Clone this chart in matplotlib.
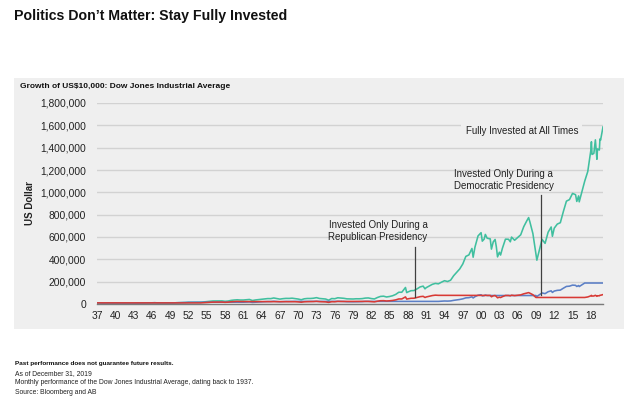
import matplotlib
matplotlib.use("Agg")
import matplotlib.pyplot as plt
import matplotlib.ticker as ticker
from matplotlib.patches import Rectangle

plt.rcParams['font.family'] = ['Liberation Sans', 'DejaVu Sans']

# month positions as fractional years (1937.0 = start of Jan 1937)
dates = [1937.0, 1937.5, 1938.0, 1938.5, 1939.0, 1939.5, 1940.0, 1940.5, 1941.0, 1941.5,
         1942.0, 1942.5, 1943.0, 1943.5, 1944.0, 1944.5, 1945.0, 1945.5, 1946.0, 1946.5,
         1947.0, 1947.5, 1948.0, 1948.5, 1949.0, 1949.5, 1950.0, 1950.5, 1951.0, 1951.5,
         1952.0, 1952.5, 1953.0, 1953.5, 1954.0, 1954.5, 1955.0, 1955.5, 1956.0, 1956.5,
         1957.0, 1957.5, 1958.0, 1958.5, 1959.0, 1959.5, 1960.0, 1960.5, 1961.0, 1961.5,
         1962.0, 1962.5, 1963.0, 1963.5, 1964.0, 1964.5, 1965.0, 1965.5, 1966.0, 1966.5,
         1967.0, 1967.5, 1968.0, 1968.5, 1969.0, 1969.5, 1970.0, 1970.5, 1971.0, 1971.5,
         1972.0, 1972.5, 1973.0, 1973.5, 1974.0, 1974.5, 1975.0, 1975.5, 1976.0, 1976.5,
         1977.0, 1977.5, 1978.0, 1978.5, 1979.0, 1979.5, 1980.0, 1980.5, 1981.0, 1981.5,
         1982.0, 1982.5, 1983.0, 1983.5, 1984.0, 1984.5, 1985.0, 1985.5, 1986.0, 1986.5,
         1987.0, 1987.6, 1987.8, 1988.0, 1988.5, 1989.0, 1989.5, 1990.0, 1990.5, 1990.8,
         1991.0, 1991.5, 1992.0, 1992.5, 1993.0, 1993.5, 1994.0, 1994.5, 1995.0, 1995.5,
         1996.0, 1996.5, 1997.0, 1997.5, 1998.0, 1998.5, 1998.7, 1999.0, 1999.5, 2000.0,
         2000.2, 2000.5, 2000.7, 2001.0, 2001.5, 2001.7, 2002.0, 2002.3, 2002.5, 2002.7,
         2003.0, 2003.2, 2003.5, 2004.0, 2004.5, 2004.8, 2005.0, 2005.5, 2006.0, 2006.5,
         2007.0, 2007.5, 2007.8, 2008.0, 2008.5, 2009.0, 2009.15, 2009.5, 2010.0, 2010.5,
         2011.0, 2011.5, 2011.7, 2012.0, 2012.5, 2013.0, 2013.5, 2014.0, 2014.5, 2015.0,
         2015.5, 2015.7, 2016.0, 2016.1, 2016.5, 2017.0, 2017.5, 2018.0, 2018.1, 2018.2,
         2018.5, 2018.75, 2019.0, 2019.1, 2019.4, 2019.5, 2019.6, 2020.0]

# growth of $10,000, in thousands of USD
fully_invested = [10.0, 9.39, 6.72, 7.44, 8.61, 7.28, 8.33, 6.78, 7.28, 6.83,
                  6.17, 5.72, 6.61, 7.94, 7.56, 8.22, 8.45, 9.17, 10.72, 11.39,
                  9.83, 9.83, 10.06, 10.5, 9.83, 9.33, 11.11, 11.61, 13.06, 13.5,
                  14.95, 15.22, 16.11, 14.89, 15.61, 18.56, 22.45, 25.06, 27.11, 27.39,
                  27.78, 27.95, 24.22, 26.56, 32.45, 35.78, 37.72, 35.61, 35.56, 38.0,
                  40.61, 31.17, 36.23, 39.28, 42.39, 46.23, 48.56, 48.23, 53.84, 48.34,
                  43.67, 47.78, 50.28, 49.89, 51.95, 48.5, 44.45, 38.0, 46.61, 49.5,
                  49.45, 51.62, 56.67, 49.5, 47.28, 44.56, 34.22, 48.84, 47.34, 55.73,
                  53.34, 50.89, 46.17, 45.5, 44.73, 46.78, 46.61, 48.23, 52.78, 54.28,
                  48.62, 45.11, 58.17, 67.89, 69.95, 62.89, 67.34, 74.23, 85.95, 105.17,
                  105.34, 147.9, 101.84, 107.73, 119.01, 120.51, 135.57, 152.96, 160.07, 135.68,
                  146.34, 161.51, 176.07, 184.4, 180.57, 195.35, 208.57, 201.4, 213.02, 253.13,
                  284.3, 314.14, 358.25, 426.31, 439.37, 497.37, 418.87, 510.1, 609.55, 638.77,
                  562.71, 580.49, 623.1, 588.94, 583.49, 491.59, 556.82, 578.05, 513.54, 421.81,
                  463.48, 438.42, 499.21, 580.82, 579.77, 557.1, 599.1, 570.88, 595.49, 619.49,
                  692.44, 745.0, 773.95, 737.0, 630.61, 444.48, 392.42, 469.31, 579.38, 543.04,
                  643.27, 689.72, 606.33, 678.83, 715.61, 728.06, 828.4, 921.02, 934.91, 990.25,
                  978.97, 918.3, 968.13, 914.85, 996.19, 1100.09, 1186.21, 1373.39, 1452.84, 1339.16,
                  1348.5, 1470.0, 1296.05, 1388.94, 1378.7, 1477.9, 1466.95, 1585.57]

democratic_only = [10.0, 9.39, 6.72, 7.44, 8.61, 7.28, 8.33, 6.78, 7.28, 6.83,
                   6.17, 5.72, 6.61, 7.94, 7.56, 8.22, 8.45, 9.17, 10.72, 11.39,
                   9.83, 9.83, 10.06, 10.5, 9.83, 9.33, 11.11, 11.61, 13.06, 13.5,
                   14.95, 15.22, 16.11, 16.11, 16.11, 16.11, 16.11, 16.11, 16.11, 16.11,
                   16.11, 16.11, 16.11, 16.11, 16.11, 16.11, 16.11, 16.11, 16.11, 17.21,
                   18.4, 14.12, 16.41, 17.79, 19.2, 20.94, 22.0, 21.85, 24.39, 21.9,
                   19.78, 21.64, 22.78, 22.6, 23.53, 23.53, 23.53, 23.53, 23.53, 23.53,
                   23.53, 23.53, 23.53, 23.53, 23.53, 23.53, 23.53, 23.53, 23.53, 23.53,
                   23.53, 22.45, 20.37, 20.07, 19.73, 20.63, 20.56, 21.27, 23.28, 23.28,
                   23.28, 23.28, 23.28, 23.28, 23.28, 23.28, 23.28, 23.28, 23.28, 23.28,
                   23.28, 23.28, 23.28, 23.28, 23.28, 23.28, 23.28, 23.28, 23.28, 23.28,
                   23.28, 23.28, 23.28, 23.28, 23.28, 25.19, 26.89, 25.97, 27.46, 32.64,
                   36.65, 40.5, 46.19, 54.96, 56.65, 64.13, 54.0, 65.77, 78.59, 82.36,
                   72.55, 74.84, 80.34, 75.93, 75.93, 75.93, 75.93, 75.93, 75.93, 75.93,
                   75.93, 75.93, 75.93, 75.93, 75.93, 75.93, 75.93, 75.93, 75.93, 75.93,
                   75.93, 75.93, 75.93, 75.93, 75.93, 75.93, 67.04, 80.17, 98.98, 92.77,
                   109.89, 117.82, 103.58, 115.96, 122.25, 124.38, 141.51, 157.34, 159.71, 169.16,
                   167.24, 156.87, 165.39, 156.28, 170.18, 187.93, 187.93, 187.93, 187.93, 187.93,
                   187.93, 187.93, 187.93, 187.93, 187.93, 187.93, 187.93, 187.93]

republican_only = [10.0, 10.0, 10.0, 10.0, 10.0, 10.0, 10.0, 10.0, 10.0, 10.0,
                   10.0, 10.0, 10.0, 10.0, 10.0, 10.0, 10.0, 10.0, 10.0, 10.0,
                   10.0, 10.0, 10.0, 10.0, 10.0, 10.0, 10.0, 10.0, 10.0, 10.0,
                   10.0, 10.0, 10.0, 9.24, 9.69, 11.52, 13.93, 15.56, 16.83, 17.0,
                   17.24, 17.35, 15.03, 16.49, 20.14, 22.21, 23.41, 22.1, 22.07, 22.07,
                   22.07, 22.07, 22.07, 22.07, 22.07, 22.07, 22.07, 22.07, 22.07, 22.07,
                   22.07, 22.07, 22.07, 22.07, 22.07, 20.6, 18.88, 16.14, 19.8, 21.03,
                   21.01, 21.93, 24.08, 21.03, 20.09, 18.93, 14.54, 20.75, 20.11, 23.68,
                   22.66, 22.66, 22.66, 22.66, 22.66, 22.66, 22.66, 22.66, 22.66, 23.3,
                   20.87, 19.37, 24.97, 29.15, 30.03, 27.0, 28.91, 31.87, 36.9, 45.15,
                   45.23, 63.5, 43.72, 46.25, 51.09, 51.74, 58.2, 65.67, 68.72, 58.25,
                   62.83, 69.34, 75.59, 79.17, 77.52, 77.52, 77.52, 77.52, 77.52, 77.52,
                   77.52, 77.52, 77.52, 77.52, 77.52, 77.52, 77.52, 77.52, 77.52, 77.52,
                   77.52, 77.52, 77.52, 77.52, 76.8, 64.71, 73.29, 76.09, 67.6, 55.52,
                   61.01, 57.71, 65.71, 76.45, 76.31, 73.33, 78.86, 75.14, 78.39, 81.54,
                   91.15, 98.06, 101.88, 97.01, 83.01, 58.51, 58.51, 58.51, 58.51, 58.51,
                   58.51, 58.51, 58.51, 58.51, 58.51, 58.51, 58.51, 58.51, 58.51, 58.51,
                   58.51, 58.51, 58.51, 58.51, 58.51, 58.51, 63.09, 73.05, 77.27, 71.23,
                   71.72, 78.18, 68.93, 73.87, 73.33, 78.6, 78.02, 84.33]

tick_years = list(range(1937, 2019, 3))
tick_labels = ["%02d" % (y % 100) for y in tick_years]
y_ticks = [0, 200000, 400000, 600000, 800000, 1000000, 1200000, 1400000, 1600000, 1800000]

teal = '#40bf9f'
blue = '#5b7fc6'
red = '#d83a35'
panel = '#efefef'

fig = plt.figure(figsize=(6.24, 3.98), dpi=100)
fig.patch.set_facecolor('white')
fig.patches.append(Rectangle((14/624, 69/398), 610/624, 251/398, transform=fig.transFigure,
                             facecolor=panel, edgecolor='none', zorder=-5))

ax = fig.add_axes([97/624, 94/398, 506/624, 201/398])
ax.set_zorder(2)
ax.set_facecolor('none')

def k2usd(vals):
    return [v * 1000 for v in vals]

ax.plot(dates, k2usd(democratic_only), color=blue, lw=1.15, zorder=3)
ax.plot(dates, k2usd(republican_only), color=red, lw=1.15, zorder=4)
ax.plot(dates, k2usd(fully_invested), color=teal, lw=1.15, zorder=2)

ax.set_xlim(1937, 2020)
ax.set_ylim(0, 1800000)
ax.set_yticks(y_ticks)
ax.yaxis.set_major_formatter(ticker.FuncFormatter(lambda v, p: '{:,.0f}'.format(v)))
ax.set_xticks(tick_years)
ax.set_xticklabels(tick_labels)
ax.tick_params(axis='both', length=0, labelsize=7.4, colors='#222222')
ax.tick_params(axis='y', pad=8)
ax.tick_params(axis='x', pad=5)
ax.grid(axis='y', color='#d2d2d2', lw=1.0, zorder=1)
ax.set_axisbelow(True)
for s in ['top', 'right', 'left']:
    ax.spines[s].set_visible(False)
ax.spines['bottom'].set_color('#7a7a7a')
ax.spines['bottom'].set_linewidth(1.0)
ax.spines['bottom'].set_zorder(5)

ax.set_ylabel('US Dollar', fontsize=7, fontweight='bold', color='#222222')
ax.yaxis.set_label_coords(-0.1225, 0.5)

# annotations
ax.text(2006.7, 1550000, 'Fully Invested at All Times', fontsize=7, ha='center', va='center',
        color='#222222', bbox=dict(facecolor=panel, edgecolor='none', pad=3), zorder=6)
ax.text(2003.7, 1110000, 'Invested Only During a\nDemocratic Presidency', fontsize=7,
        ha='center', va='center', color='#222222', linespacing=1.25, zorder=6)
ax.plot([2009.8, 2009.8], [976000, 80000], color='#404040', lw=0.9, zorder=6)
ax.text(1983.1, 650000, 'Invested Only During a\nRepublican Presidency', fontsize=7,
        ha='center', va='center', color='#222222', linespacing=1.25, zorder=6)
ax.plot([1989.1, 1989.1], [510000, 63000], color='#404040', lw=0.9, zorder=6)

fig.text(14/624, 1 - 16/398, 'Politics Don\u2019t Matter: Stay Fully Invested', fontsize=10.2,
         fontweight='bold', va='center', ha='left', color='#111111')
fig.text(20/624, 1 - 87/398, 'Growth of US$10,000: Dow Jones Industrial Average', fontsize=6.05,
         fontweight='bold', va='center', ha='left', color='#111111')

fig.text(15/624, 1 - 364/398, 'Past performance does not guarantee future results.', fontsize=4.6,
         fontweight='bold', va='center', ha='left', color='#111111')
fig.text(15/624, 1 - 373.5/398, 'As of December 31, 2019', fontsize=4.9, va='center', ha='left', color='#222222')
fig.text(15/624, 1 - 383/398, 'Monthly performance of the Dow Jones Industrial Average, dating back to 1937.',
         fontsize=4.9, va='center', ha='left', color='#222222')
fig.text(15/624, 1 - 392.5/398, 'Source: Bloomberg and AB', fontsize=4.9, va='center', ha='left', color='#222222')

fig.savefig('out.png', dpi=100)
